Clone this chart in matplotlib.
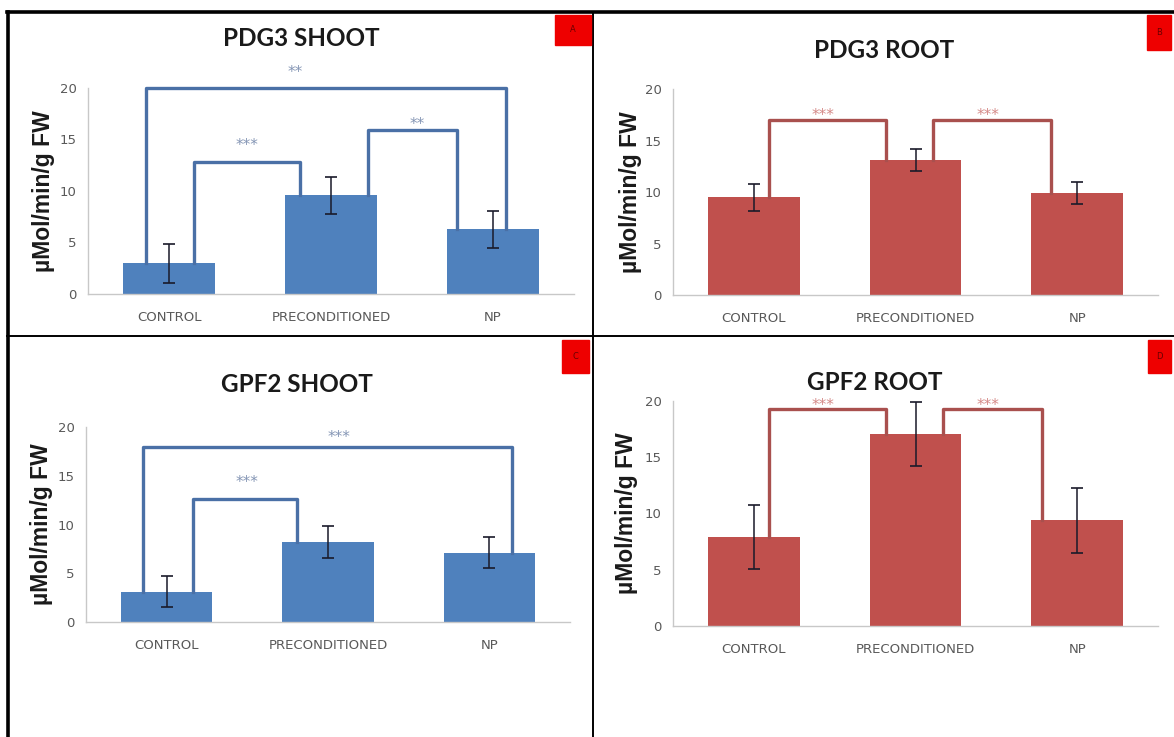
import matplotlib
matplotlib.use('Agg')
import matplotlib.pyplot as plt
from matplotlib.lines import Line2D
from matplotlib.patches import Rectangle

W, H = 1174, 737

# Data
categories = ['CONTROL', 'PRECONDITIONED', 'NP']
pdg3_shoot = [3.0, 9.6, 6.3]
pdg3_shoot_err = [1.9, 1.8, 1.8]
pdg3_root = [9.5, 13.1, 9.9]
pdg3_root_err = [1.3, 1.1, 1.1]
gpf2_shoot = [3.1, 8.2, 7.1]
gpf2_shoot_err = [1.6, 1.6, 1.6]
gpf2_root = [7.9, 17.05, 9.4]
gpf2_root_err = [2.85, 2.85, 2.9]

# significance brackets: (from, to, label, height)
pdg3_shoot_sig = [(0, 2, '**', 20.0), (0, 1, '***', 12.8), (1, 2, '**', 15.9)]
pdg3_root_sig = [(0, 1, '***', 17.0), (1, 2, '***', 17.0)]
gpf2_shoot_sig = [(0, 2, '***', 18.0), (0, 1, '***', 12.6)]
gpf2_root_sig = [(0, 1, '***', 19.3), (1, 2, '***', 19.3)]

yticks = [0, 5, 10, 15, 20]

BLUE = '#4f81bd'
BLUE_LINE = '#4a70a6'
RED = '#c0504d'
RED_LINE = '#a9504e'
GRAY = '#595959'
LABEL_FONT = ['Liberation Sans Narrow', 'DejaVu Sans']


def px_axes(left, right, top, bottom):
    return plt.gcf().add_axes([left / W, 1 - bottom / H, (right - left) / W, (bottom - top) / H])


def draw_panel(box, title, title_xy, values, errors, sig, legs, label_pos,
               color, line_color, star_color, ylabel_x):
    ax = px_axes(*box)
    x = range(len(categories))
    ax.bar(x, values, width=0.565, color=color, zorder=2)
    ax.errorbar(x, values, yerr=errors, fmt='none', ecolor='#1a1a2a',
                elinewidth=1.1, capsize=4, capthick=1.2, zorder=4)
    for (i, j, lab, h), (xl, xr), (lx, ly) in zip(sig, legs, label_pos):
        ax.plot([xl, xl, xr, xr], [values[i], h, h, values[j]], color=line_color,
                lw=2.4, solid_joinstyle='round', clip_on=False, zorder=3)
        ax.text(lx, h + ly, lab, ha='center', va='center', fontsize=11,
                color=star_color, clip_on=False)
    ax.set_xlim(-0.5, 2.5)
    ax.set_ylim(0, 20)
    ax.set_yticks(yticks)
    ax.set_yticklabels([str(t) for t in yticks], color=GRAY, fontsize=9.5,
                       family=LABEL_FONT)
    ax.set_xticks(list(x))
    ax.set_xticklabels(categories, color=GRAY, fontsize=9.5, family=LABEL_FONT)
    ax.tick_params(length=0, pad=12)
    ax.tick_params(axis='y', pad=8)
    for s in ['top', 'right']:
        ax.spines[s].set_visible(False)
    for s in ['left', 'bottom']:
        ax.spines[s].set_color('#c8c8c8')
        ax.spines[s].set_linewidth(1)
    fig = plt.gcf()
    fig.text(title_xy[0] / W, 1 - title_xy[1] / H, title, ha='center', va='center',
             fontsize=17.5, family=['Lato', 'DejaVu Sans'], weight='bold', color='#1a1a1a')
    yc = (box[2] + box[3]) / 2
    fig.text(ylabel_x / W, 1 - yc / H, 'µMol/min/g FW', rotation=90, ha='center',
             va='center', fontsize=16.5, weight='bold', family=['Liberation Sans', 'DejaVu Sans'],
             color='#1a1a1a')
    return ax


def main():
    fig = plt.figure(figsize=(W / 100, H / 100), dpi=100)
    fig.patch.set_facecolor('white')

    draw_panel((88, 574, 88, 294), 'PDG3 SHOOT', (301, 38), pdg3_shoot, pdg3_shoot_err,
               pdg3_shoot_sig, [(-0.145, 2.08), (0.156, 0.81), (1.23, 1.78)],
               [(0.78, 1.5), (0.48, 1.6), (1.53, 0.6)], BLUE, BLUE_LINE, '#8596b5', 44)
    draw_panel((673, 1158, 89, 295), 'PDG3 ROOT', (884, 50), pdg3_root, pdg3_root_err,
               pdg3_root_sig, [(0.092, 0.82), (1.11, 1.84)],
               [(0.43, 0.4), (1.45, 0.4)], RED, RED_LINE, '#d58a88', 631)
    draw_panel((86, 570, 427, 622), 'GPF2 SHOOT', (297, 385), gpf2_shoot, gpf2_shoot_err,
               gpf2_shoot_sig, [(-0.145, 2.14), (0.163, 0.81)],
               [(1.07, 0.9), (0.5, 1.7)], BLUE, BLUE_LINE, '#8596b5', 42)
    draw_panel((673, 1158, 401, 626), 'GPF2 ROOT', (875, 382), gpf2_root, gpf2_root_err,
               gpf2_root_sig, [(0.092, 0.82), (1.17, 1.78)],
               [(0.43, 0.3), (1.45, 0.3)], RED, RED_LINE, '#d58a88', 627)

    # frame lines
    def hline(y, x0, x1, lw):
        fig.add_artist(Line2D([x0 / W, x1 / W], [1 - y / H, 1 - y / H], color='black', lw=lw))

    def vline(x, y0, y1, lw):
        fig.add_artist(Line2D([x / W, x / W], [1 - y0 / H, 1 - y1 / H], color='black', lw=lw))

    hline(12, 7, W, 2.6)
    vline(8, 12, H, 2.6)
    vline(593, 12, H, 1.4)
    hline(336, 7, W, 1.4)

    # red panel tags
    tags = [('A', 555, 15, 36, 30), ('B', 1147, 15, 24, 35), ('C', 562, 340, 27, 33), ('D', 1148, 340, 23, 33)]
    for letter, x0, y0, w, h in tags:
        fig.add_artist(Rectangle((x0 / W, 1 - (y0 + h) / H), w / W, h / H,
                                 transform=fig.transFigure, color='#ee0000', zorder=5))
        fig.text((x0 + w / 2) / W, 1 - (y0 + h / 2) / H, letter, ha='center', va='center',
                 fontsize=6, color='#6a0000', zorder=6)

    fig.savefig('out.png', dpi=100)


if __name__ == '__main__':
    main()
